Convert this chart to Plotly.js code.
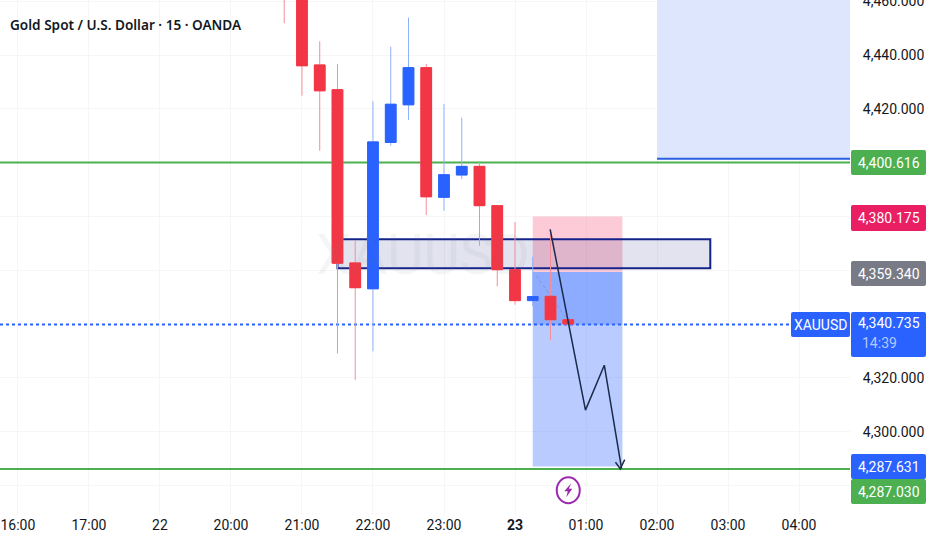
<!DOCTYPE html>
<html><head><meta charset="utf-8">
<script src="https://cdn.plot.ly/plotly-3.0.1.min.js"></script>
<style>html,body{margin:0;padding:0;background:#fff}#c{width:932px;height:550px}</style>
</head><body><div id="c"></div>
<script>
// candle data: bar index (15 min bars) and OHLC
const barIndex = [0,1,2,3,4,5,6,7,8,9,10,11,12,13,14,15,16];
const opens  = [4475,4475,4436.3,4427.1,4362.7,4353.1,4407.5,4421.5,4435.3,4387.1,4395.4,4398.6,4384.0,4360.2,4348.7,4350.3,4341.6];
const highs  = [4480,4480,4445.1,4436.7,4371.2,4422.8,4443.1,4453.9,4436.7,4421.8,4416.7,4400.6,4384.0,4377.9,4365.0,4375.2,4341.6];
const lows   = [4451.8,4424.9,4404.4,4329.1,4319.2,4329.8,4406.3,4415.8,4380.5,4382.1,4393.9,4369.1,4354.0,4347.2,4346.7,4334.0,4340.0];
const closes = [4465,4436.0,4426.7,4362.6,4353.5,4407.7,4421.7,4435.3,4387.3,4395.5,4398.6,4384.0,4360.2,4348.7,4350.2,4341.6,4340.0];

const timeTickVals  = [-15,-11,-7,-3,1,5,9,13,17,21,25,29];
const timeTickTexts = ['16:00','17:00','22','20:00','21:00','22:00','23:00','<b>23</b>','01:00','02:00','03:00','04:00'];
const priceTickVals  = [4280,4300,4320,4340,4360,4380,4400,4420,4440,4460];
const priceTickTexts = ['','4,300.000','4,320.000','','','','','4,420.000','4,440.000','4,460.000'];

const arrowX = [14.98,16.97,18.03,19.0];
const arrowY = [4375.2,4308.0,4324.7,4286.3];
const headX  = [18.66,18.93,19.18];
const headY  = [4288.6,4286.2,4289.6];
const tradeGuideX = [14.2,16.0];
const tradeGuideY = [4358,4341];

const greenLevels = [4400.0,4286.1];
const lastPrice = 4339.8;
const zone = {i0:3,i1:24,top:4371.5,bottom:4360.7};
const trade = {i0:14,i1:19.05,stop:4380,entry:4359.3,target:4287};
const upperBox = {i0:21,bottom:4401.4};

const labels = [
 {t:'4,400.616',bg:'#4caf50',y0:150,y1:175},
 {t:'4,380.175',bg:'#e91e63',y0:205,y1:231},
 {t:'4,359.340',bg:'#787b86',y0:261,y1:286},
 {t:'4,340.735',bg:'#2962ff',y0:312,y1:357,ty:323},
 {t:'4,287.631',bg:'#2962ff',y0:454,y1:479},
 {t:'4,287.030',bg:'#4caf50',y0:479,y1:504}
];

const W=932,H=550,PW=850,PH=515;
const xMin=-16.01,xMax=31.87,yMax=4460.45,yMin=4269.0;
const px=x=>x/PW, py=y=>1-y/PH;
const xFromPx=p=>13+(p-515)/17.75;
function pill(x0,y0,x1,y1,r,color){
  const X=px,Y=py;
  return {type:'path',xref:'paper',yref:'paper',layer:'above',fillcolor:color,line:{width:0},
   path:`M${X(x0+r)},${Y(y0)}L${X(x1-r)},${Y(y0)}Q${X(x1)},${Y(y0)} ${X(x1)},${Y(y0+r)}L${X(x1)},${Y(y1-r)}Q${X(x1)},${Y(y1)} ${X(x1-r)},${Y(y1)}L${X(x0+r)},${Y(y1)}Q${X(x0)},${Y(y1)} ${X(x0)},${Y(y1-r)}L${X(x0)},${Y(y0+r)}Q${X(x0)},${Y(y0)} ${X(x0+r)},${Y(y0)}Z`};
}
const rect=(x0,x1,y0,y1,fill,line)=>({type:'rect',xref:'x',yref:'y',layer:'between',x0,x1,y0,y1,fillcolor:fill,line:line||{width:0}});
const seg=(x0,x1,y,color,width,dash)=>({type:'line',xref:'x',yref:'y',layer:'between',x0,x1,y0:y,y1:y,line:{color,width,dash:dash||'solid'}});

const shapes=[
 rect(upperBox.i0,xMax,upperBox.bottom,yMax,'#dde6fc'),
 seg(xMin,xMax,greenLevels[0],'#4caf50',2),
 seg(xMin,xMax,greenLevels[1],'#4caf50',2),
 seg(upperBox.i0,xMax,upperBox.bottom,'#2a5fe0',2),
 rect(trade.i0,trade.i1,trade.entry,trade.stop,'rgba(242,54,100,0.26)'),
 rect(trade.i0,trade.i1,trade.target,trade.entry,'rgba(41,98,255,0.33)'),
 rect(trade.i0,trade.i1,lastPrice,trade.entry,'rgba(41,98,255,0.30)'),
 rect(zone.i0,zone.i1,zone.bottom,zone.top,'rgba(30,40,130,0.13)',{color:'#14238a',width:2}),
 seg(xMin,xFromPx(790),lastPrice,'#2962ff',2,'dot')
];

// event marker
shapes.push({type:'circle',xref:'x',yref:'y',layer:'above',xsizemode:'pixel',ysizemode:'pixel',xanchor:16,yanchor:4278.2,x0:-11.5,x1:11.5,y0:-13,y1:13,line:{color:'#9c27b0',width:2},fillcolor:'rgba(255,255,255,0)'});
shapes.push({type:'path',xref:'x',yref:'y',layer:'above',xsizemode:'pixel',ysizemode:'pixel',xanchor:16,yanchor:4278.2,path:'M3,7L-4,-1L-0.5,-1L-2,-7L4,1.5L0.5,1.5Z',fillcolor:'#9c27b0',line:{width:0}});

labels.forEach(l=>shapes.push(pill(851,l.y0,926,l.y1,2,l.bg)));
shapes.push(pill(791,312,850,337,2,'#2962ff'));

const annotations=[
 {xref:'paper',yref:'paper',x:px(7.5),y:py(24),xanchor:'left',yanchor:'middle',showarrow:false,text:'Gold Spot / U.S. Dollar · 15 · OANDA',font:{family:'Noto Sans',size:13.6,color:'#131722',weight:600}},
 {xref:'paper',yref:'paper',x:px(423),y:py(255),xanchor:'center',yanchor:'middle',showarrow:false,text:'XAUUSD',font:{family:'Roboto',size:56,color:'rgba(120,123,134,0.08)'}},
 {xref:'paper',yref:'paper',x:px(820.5),y:py(325),xanchor:'center',yanchor:'middle',showarrow:false,text:'XAUUSD',font:{family:'Roboto',size:14,color:'#fff'}},
 {xref:'paper',yref:'paper',x:px(860),y:py(343),xanchor:'left',yanchor:'middle',showarrow:false,text:'14:39',font:{family:'Roboto',size:14,color:'#b4c9ff'}}
];
labels.forEach(l=>annotations.push({xref:'paper',yref:'paper',x:px(922),y:py(l.ty||(l.y0+l.y1)/2),xanchor:'right',yanchor:'middle',showarrow:false,text:l.t,font:{family:'Roboto',size:14,color:'#fff'}}));

const bodyHi=opens.map((o,i)=>Math.max(o,closes[i]));
const bodyLo=opens.map((o,i)=>Math.min(o,closes[i]));
const traces=[
 {type:'candlestick',x:barIndex,open:opens,high:highs,low:lows,close:closes,whiskerwidth:0,hoverinfo:'skip',showlegend:false,
  increasing:{line:{color:'#8fb0fb',width:1},fillcolor:'#2962ff'},decreasing:{line:{color:'#f28f9b',width:1},fillcolor:'#f23645'}},
 {type:'candlestick',x:barIndex,open:opens,high:bodyHi,low:bodyLo,close:closes,whiskerwidth:0,hoverinfo:'skip',showlegend:false,
  increasing:{line:{color:'#2962ff',width:1},fillcolor:'#2962ff'},decreasing:{line:{color:'#f23645',width:1},fillcolor:'#f23645'}},
 {type:'scatter',mode:'lines',x:tradeGuideX,y:tradeGuideY,line:{color:'rgba(120,123,134,0.45)',width:1,dash:'3px,3px'},hoverinfo:'skip',showlegend:false},
 {type:'scatter',mode:'lines',x:arrowX,y:arrowY,line:{color:'#1c2b4a',width:1.5},hoverinfo:'skip',showlegend:false},
 {type:'scatter',mode:'lines',x:headX,y:headY,line:{color:'#1c2b4a',width:1.5},hoverinfo:'skip',showlegend:false}
];
const layout={
 width:W,height:H,margin:{l:0,r:82,t:0,b:35,pad:0},paper_bgcolor:'#fff',plot_bgcolor:'#fff',showlegend:false,boxgap:0.14,
 font:{family:'Roboto',size:14,color:'#131722'},
 xaxis:{type:'linear',range:[xMin,xMax],tickmode:'array',tickvals:timeTickVals,ticktext:timeTickTexts,showgrid:true,gridcolor:'#f6f6f7',gridwidth:1,zeroline:false,showline:false,ticks:'',ticklabeloverflow:'allow',rangeslider:{visible:false},fixedrange:true,tickfont:{family:'Roboto',size:14,color:'#131722'},automargin:false},
 yaxis:{type:'linear',side:'right',range:[yMin,yMax],tickmode:'array',tickvals:priceTickVals,ticktext:priceTickTexts,showgrid:true,gridcolor:'#f6f6f7',gridwidth:1,zeroline:false,showline:false,ticks:'outside',ticklen:9,tickcolor:'rgba(255,255,255,0)',ticklabeloverflow:'allow',fixedrange:true,tickfont:{family:'Roboto',size:14,color:'#131722'},automargin:false},
 shapes,annotations
};
Plotly.newPlot('c',traces,layout,{displayModeBar:false,staticPlot:true});
</script></body></html>
